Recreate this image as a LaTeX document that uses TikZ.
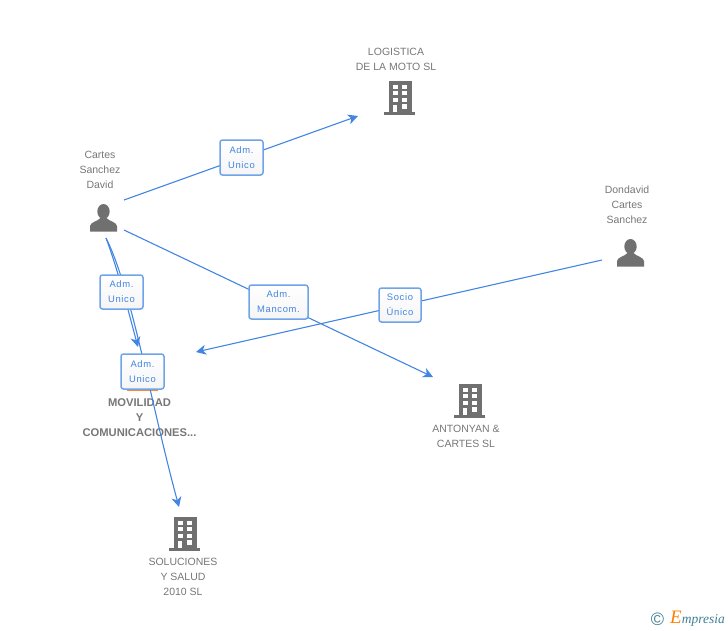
\documentclass[tikz,border=0pt]{standalone}
\usepackage{fontspec}
\setmainfont{Liberation Sans}
\newfontfamily\rolefont[LetterSpace=7]{Liberation Sans}
\newfontfamily\logofont{Liberation Serif}
\usetikzlibrary{arrows.meta}
\definecolor{flowblue}{HTML}{4285E2}
\definecolor{boxblue}{HTML}{6FA3EA}
\definecolor{icongray}{HTML}{707070}
\definecolor{textgray}{HTML}{777777}
\definecolor{logoteal}{HTML}{3F7F96}
\tikzset{
    flow/.style={draw=flowblue,line width=1.1pt,-{Stealth[length=10pt,width=10pt,inset=3pt]}},
    rolebox/.style={draw=boxblue,line width=1.5pt,rounded corners=2.5pt,top color=white,bottom color=black!4,
        text=flowblue,align=center,inner sep=0pt,font=\rolefont\fontsize{9.4}{15}\selectfont},
    namelabel/.style={text=textgray,align=center,inner sep=0pt,font=\fontsize{10.5}{15}\selectfont},
    buildingicon/.pic={
        \fill[icongray] (-10.5,-17) rectangle (12.5,14);
        \fill[icongray] (-15.5,14) rectangle (15.5,17);
        \foreach \rowy in {-13,-7,0} {
            \fill[white] (-6.5,\rowy) rectangle (-1.5,\rowy+4);
            \fill[white] (2.5,\rowy) rectangle (7.5,\rowy+4);
        }
        \fill[white] (-6,7) rectangle (-2,14);
        \fill[white] (2.5,6) rectangle (7.5,11);
    },
    personicon/.pic={
        \fill[icongray] (0,-6.5) ellipse (6.2 and 7.5);
        \fill[icongray] (-13.5,13.5) -- (-13.5,8) .. controls (-13,4) and (-6,3.5) .. (-3,0)
            -- (3,0) .. controls (6,3.5) and (13,4) .. (13.5,8) -- (13.5,13.5) -- cycle;
    },
}
\begin{document}
\begin{tikzpicture}[x=1pt,y=-1pt]
    \useasboundingbox (0,0) rectangle (728,630);

    \node[namelabel] (cartes) at (100,170) {Cartes\\Sanchez\\David};
    \node[namelabel] (dondavid) at (627,205) {Dondavid\\Cartes\\Sanchez};
    \node[namelabel] (logistica) at (396,59.5) {LOGISTICA\\DE LA MOTO SL};
    \node[namelabel] (antonyan) at (466,436.5) {ANTONYAN \&\\CARTES SL};
    \node[namelabel] (soluciones) at (183,577) {SOLUCIONES\\Y SALUD\\2010 SL};
    \node[namelabel,font=\bfseries\fontsize{11.2}{15}\selectfont] (movilidad) at (139.5,418) {MOVILIDAD\\Y\\COMUNICACIONES...};

    \pic at (103.5,218) {personicon};
    \pic at (630.5,253) {personicon};
    \pic at (399,97.5) {buildingicon};
    \pic at (469,400.5) {buildingicon};
    \pic at (184,533.5) {buildingicon};
    \fill[orange!80!red!80] (127,389) rectangle (158,391);

    \coordinate (cartesup) at (124,200);
    \coordinate (cartesright) at (433,377);
    \coordinate (cartesstart) at (124,230);
    \coordinate (cartesdown) at (106,238);
    \coordinate (logisticain) at (358,116);
    \coordinate (dondavidout) at (602,260);
    \coordinate (movilidadin) at (196,352);
    \coordinate (movilidadtop) at (138,347);
    \coordinate (solucionesin) at (179,507);

    \draw[flow] (cartesup) to (logisticain);
    \draw[flow] (cartesstart) to (cartesright);
    \draw[flow] (dondavidout) to (movilidadin);
    \draw[flow] (cartesdown) .. controls (118,270) and (128,310) .. (movilidadtop);
    \draw[flow] (cartesdown) .. controls (132,290) and (150,400) .. (solucionesin);

    \node[rolebox,minimum width=43pt,minimum height=35pt] (admlogistica) at (241.5,157.5) {Adm.\\Unico};
    \node[rolebox,minimum width=59pt,minimum height=34pt] (admantonyan) at (278.5,302) {Adm.\\Mancom.};
    \node[rolebox,minimum width=42pt,minimum height=34pt] (socio) at (400,305) {Socio\\Único};
    \node[rolebox,minimum width=43pt,minimum height=34pt] (admmovilidad) at (121.5,292) {Adm.\\Unico};
    \node[rolebox,minimum width=43pt,minimum height=35pt] (admsoluciones) at (142.5,371.5) {Adm.\\Unico};

    \node[inner sep=0pt,text=logoteal,font=\fontsize{18}{18}\selectfont] (copyrightmark) at (657.5,619) {\textcopyright};
    \node[inner sep=0pt,anchor=base west,text=logoteal,font=\logofont\itshape\fontsize{13.5}{13.5}\selectfont] (logo) at (670,623)
        {{\color{orange}\fontsize{19}{19}\selectfont E}mpresia};
\end{tikzpicture}
\end{document}
